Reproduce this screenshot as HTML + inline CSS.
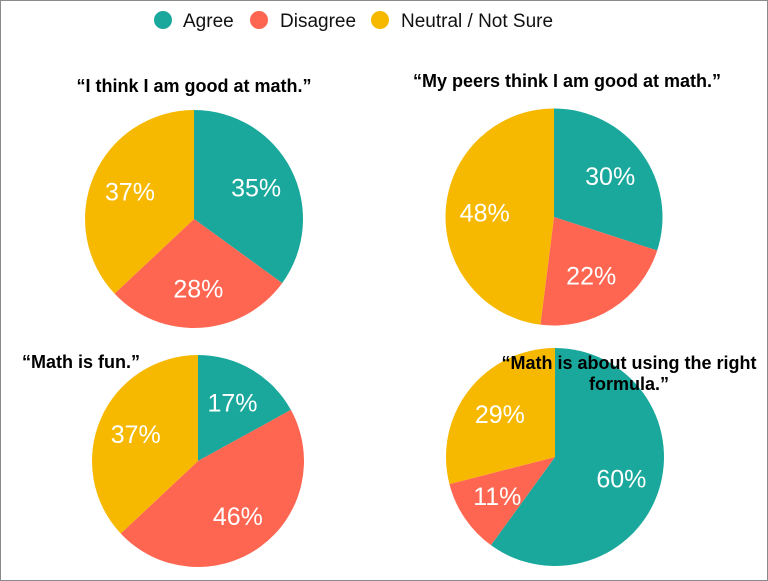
<!DOCTYPE html>
<html><head><meta charset="utf-8"><style>
html,body{margin:0;padding:0;background:#fff}
svg{display:block}
text{font-family:"Liberation Sans",Arial,sans-serif}
</style></head><body>
<svg id="chart" width="768" height="581" viewBox="0 0 768 581">
<rect x="0.5" y="0.5" width="767" height="580" fill="#fff" stroke="#8a8a8a" stroke-width="1"/>
<g>
 <g><circle cx="163" cy="20" r="9" fill="#1aa89c"/><text x="183" y="27" font-size="19" fill="#111">Agree</text></g>
 <g><circle cx="259" cy="20" r="9" fill="#fe6652"/><text x="280" y="27" font-size="19" fill="#111">Disagree</text></g>
 <g><circle cx="380" cy="20" r="9" fill="#f7b900"/><text x="401" y="27" font-size="19" fill="#111">Neutral / Not Sure</text></g>
</g>
<g id="pies"></g>
<g>
 <text x="194" y="92" text-anchor="middle" font-size="18" font-weight="bold">“I think I am good at math.”</text>
 <text x="567" y="87" text-anchor="middle" font-size="18" font-weight="bold">“My peers think I am good at math.”</text>
 <text x="22" y="368" font-size="18" font-weight="bold">“Math is fun.”</text>
 <text x="629" y="369" text-anchor="middle" font-size="18" font-weight="bold">“Math is about using the right</text>
 <text x="629" y="390" text-anchor="middle" font-size="18" font-weight="bold">formula.”</text>
</g>
</svg>
<script>
const categories = ['Agree','Disagree','Neutral / Not Sure'];
const pieNames = ['good-at-math','peers-think','math-is-fun','right-formula'];
const agreeValues = [35, 30, 17, 60];
const disagreeValues = [28, 22, 46, 11];
const neutralValues = [37, 48, 37, 29];

const colors = ['#1aa89c','#fe6652','#f7b900'];
const layout = [{cx:194,cy:219,r:109},{cx:554,cy:217,r:108.5},{cx:198,cy:461,r:106},{cx:555,cy:457,r:109}];
const NS = 'http://www.w3.org/2000/svg';
const g = document.getElementById('pies');
function pt(cx,cy,r,frac){const a=frac*2*Math.PI;return [cx+r*Math.sin(a),cy-r*Math.cos(a)];}
for(let p=0;p<4;p++){
  const vals=[agreeValues[p],disagreeValues[p],neutralValues[p]];
  const tot=vals.reduce((a,b)=>a+b,0);
  const {cx,cy,r}=layout[p];
  const grp=document.createElementNS(NS,'g');
  
  
  g.appendChild(grp);
  let acc=0;
  for(let i=0;i<3;i++){
    const f0=acc/tot, f1=(acc+vals[i])/tot; acc+=vals[i];
    const [x0,y0]=pt(cx,cy,r,f0),[x1,y1]=pt(cx,cy,r,f1);
    const large=(f1-f0)>0.5?1:0;
    const path=document.createElementNS(NS,'path');
    path.setAttribute('d',`M${cx},${cy} L${x0},${y0} A${r},${r} 0 ${large} 1 ${x1},${y1} Z`);
    path.setAttribute('fill',colors[i]);
    
    
    grp.appendChild(path);
    const [lx,ly]=pt(cx,cy,r*0.64,(f0+f1)/2);
    const t=document.createElementNS(NS,'text');
    t.setAttribute('x',lx);t.setAttribute('y',ly+9);
    t.setAttribute('text-anchor','middle');t.setAttribute('font-size','25');t.setAttribute('fill','#fff');
    
    
    t.textContent=vals[i]+'%';
    grp.appendChild(t);
  }
}
</script>
</body></html>
